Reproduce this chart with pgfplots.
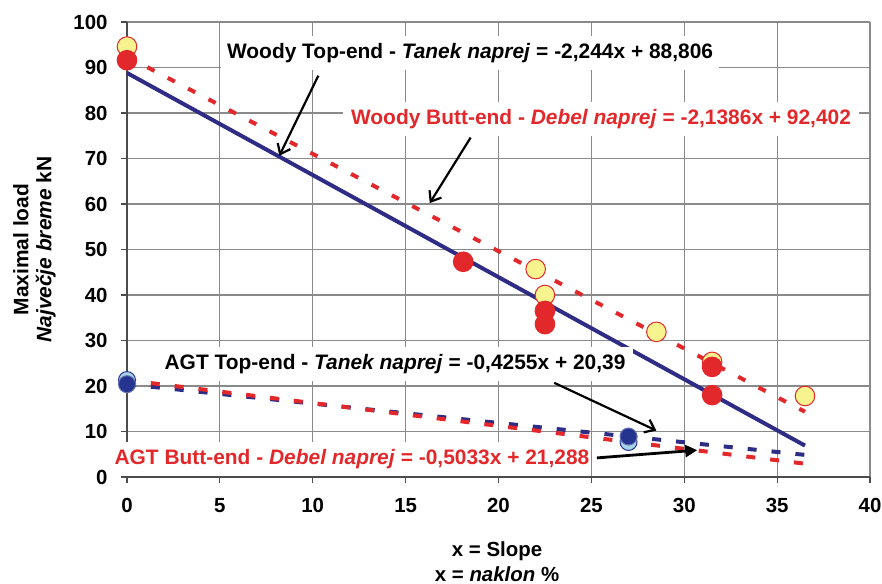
\documentclass[border=0pt]{standalone}
\usepackage{pgfplots}
\pgfplotsset{compat=1.18}
\usepackage{fontspec}
\setmainfont{Liberation Sans}
\usetikzlibrary{arrows.meta}
\definecolor{navy}{HTML}{2E2C84}
\definecolor{exred}{HTML}{E2282B}
\definecolor{pyellow}{HTML}{F7F38E}
\definecolor{dblue}{HTML}{24348F}
\definecolor{lblue}{HTML}{A9D3E6}
\definecolor{gridgray}{HTML}{8A8A8A}
\begin{document}
\begin{tikzpicture}
\path[use as bounding box] (0,0) rectangle (882bp,584bp);
\begin{axis}[
  at={(127bp,107bp)}, anchor=south west,
  scale only axis, width=743bp, height=455bp,
  xmin=0, xmax=40, ymin=0, ymax=100,
  xtick={0,5,...,40}, ytick={0,10,...,100},
  axis lines=left, axis line style={-, draw=black!70, line width=1.2bp},
  grid=major, major grid style={gridgray, line width=1.2bp},
  tick align=outside, major tick length=6bp,
  tick style={black!70, line width=1.2bp},
  clip=false,
  /pgf/number format/assume math mode=true,
  tick label style={font=\fontsize{20.5}{23}\selectfont\bfseries},
  x tick label style={yshift=-12bp},
  y tick label style={xshift=-10bp},
  xlabel={x = Slope\\x = \textit{naklon} \%},
  xlabel style={align=center, font=\fontsize{20.5}{25}\selectfont\bfseries,
    at={(axis description cs:0.498,-0.186)}, anchor=center},
  ylabel={Maximal load\\\textit{Največje breme} kN},
  ylabel style={align=center, font=\fontsize{21}{23}\selectfont\bfseries,
    at={(axis description cs:-0.1245,0.5)}, anchor=center},
]
% Woody butt-end data (yellow)
\addplot[only marks, mark=*, mark size=9.8bp,
  mark options={fill=pyellow, draw=exred, line width=1bp}]
  coordinates {(0,94.6)(22,45.7)(22.5,40)(28.5,31.9)(31.5,25.3)(36.5,17.8)};
% Woody top-end data (red)
\addplot[only marks, mark=*, mark size=9.8bp,
  mark options={fill=exred, draw=exred, line width=1bp}]
  coordinates {(0,91.6)(18.1,47.3)(22.5,36.5)(22.5,33.6)(31.5,24.2)(31.5,18.0)};
% AGT data
\addplot[only marks, mark=*, mark size=8.5bp,
  mark options={fill=lblue, draw=dblue, line width=1bp}]
  coordinates {(0,21.3)(27,7.7)};
\addplot[only marks, mark=*, mark size=8.5bp,
  mark options={fill=dblue, draw=dblue!70, line width=1bp}]
  coordinates {(0,20.4)(27,8.9)};
% trend lines
\addplot[exred, line width=4bp, dash pattern=on 8bp off 15bp]
  coordinates {(0,92.402)(36.5,14.34)};
\addplot[navy, line width=4bp]
  coordinates {(0,88.806)(36.5,6.90)};
\addplot[navy, line width=4bp, dash pattern=on 9bp off 15bp]
  coordinates {(0,20.39)(36.5,4.86)};
\addplot[exred, line width=4bp, dash pattern=on 9bp off 15bp]
  coordinates {(0,21.288)(36.5,2.92)};
% annotations
\node[fill=white, inner xsep=6bp, inner ysep=7bp,
  font=\fontsize{21}{25}\selectfont\bfseries]
  at (axis cs:18.47,93.2) {Woody Top-end - \textit{Tanek naprej} = -2,244x + 88,806};
\node[fill=white, inner xsep=8bp, inner ysep=7bp, text=exred,
  font=\fontsize{21}{25}\selectfont\bfseries]
  at (axis cs:25.52,78.7) {Woody Butt-end - \textit{Debel naprej} = -2,1386x + 92,402};
\node[fill=white, inner xsep=8bp, inner ysep=7bp,
  font=\fontsize{21}{25}\selectfont\bfseries]
  at (axis cs:14.43,24.8) {AGT Top-end - \textit{Tanek naprej} = -0,4255x + 20,39};
\node[fill=white, inner xsep=2bp, inner ysep=7bp, text=exred,
  font=\fontsize{21}{25}\selectfont\bfseries]
  at (axis cs:12.11,4.0) {AGT Butt-end - \textit{Debel naprej} = -0,5033x + 21,288};
% arrows
\draw[black, line width=2.2bp, -{Straight Barb[length=9bp,width=14bp]}]
  (axis cs:10.3,88.2) -- (axis cs:8.2,70.6);
\draw[black, line width=2.2bp, -{Straight Barb[length=9bp,width=14bp]}]
  (axis cs:18.5,74.6) -- (axis cs:16.3,60.2);
\draw[black, line width=2.2bp, -{Straight Barb[length=9bp,width=14bp]}]
  (axis cs:23.0,20.7) -- (axis cs:28.5,10.2);
\draw[black, line width=2.8bp, -{Triangle[length=12bp,width=12bp]}]
  (axis cs:25.3,4.2) -- (axis cs:30.7,5.9);
\end{axis}
\end{tikzpicture}
\end{document}
